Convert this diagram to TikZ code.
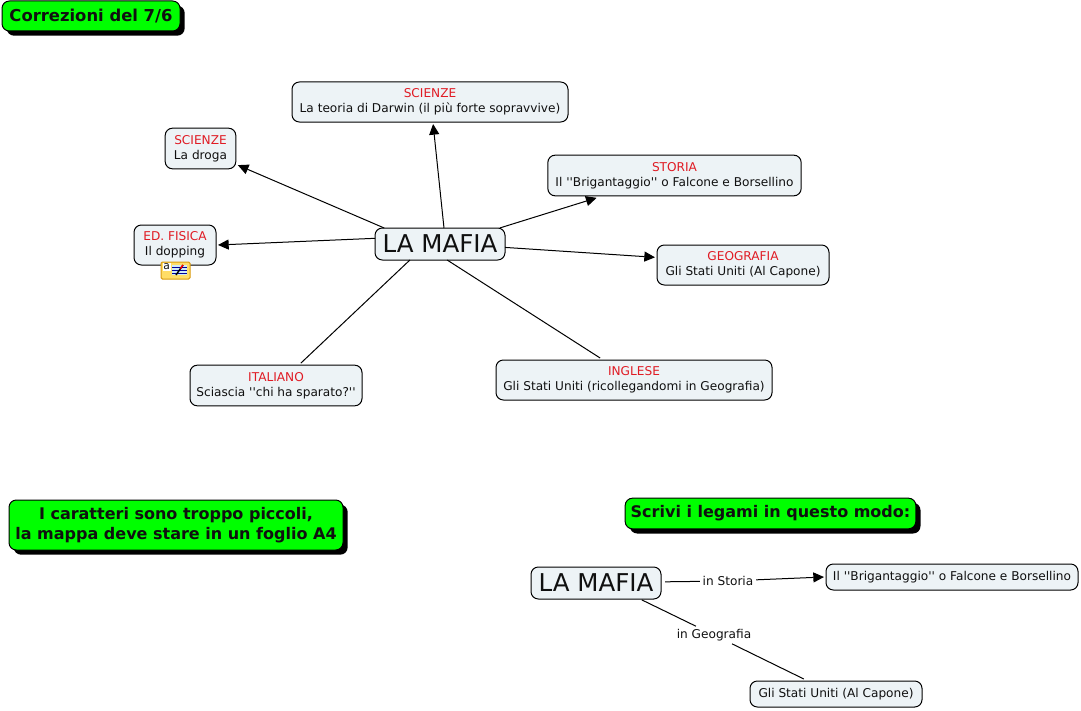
\documentclass[tikz,border=0pt]{standalone}
\usepackage{fontspec}
\setmainfont{DejaVu Sans}
\usetikzlibrary{arrows.meta,shadows}
\definecolor{Ink}{HTML}{101010}
\definecolor{Subject}{HTML}{E01B24}
\definecolor{Pale}{HTML}{EDF3F6}
\definecolor{Alert}{HTML}{00FF00}
\definecolor{Pad}{HTML}{FFDD66}
\definecolor{PadEdge}{HTML}{D99A10}
\definecolor{PadSheet}{HTML}{CFEAF8}
\tikzset{>={Triangle[length=8pt,width=7.5pt]},
 every node/.style={text=Ink},
 arr/.style={->,line width=.75pt},
 link/.style={line width=.75pt},
 concept/.style={draw=black,line width=.75pt,fill=Pale,rounded corners=5.5pt,align=center,font=\fontsize{9.1}{11.2}\selectfont,inner sep=0pt,outer sep=1.5pt},
 bigconcept/.style={concept,font=\fontsize{18.4}{21}\selectfont,minimum width=97.5pt,minimum height=24pt,outer sep=0pt},
 alert/.style={draw=black,line width=.75pt,fill=Alert,rounded corners=5.5pt,align=center,inner sep=0pt,
  font=\fontsize{12}{14.6}\selectfont\bfseries,general shadow={fill=black,shadow xshift=3.5pt,shadow yshift=-3.5pt}},
 linklabel/.style={font=\fontsize{9.1}{11}\selectfont,inner sep=2pt},
 }
\newcommand{\subj}[1]{\textcolor{Subject}{#1}\\}
\newcommand{\qq}{\textquotesingle\textquotesingle}
\begin{document}
\begin{tikzpicture}[x=.75pt,y=-.75pt]
 \useasboundingbox (0,0) rectangle (1081,710);
 % top note and main map
 \node[alert,font=\fontsize{12.3}{15}\selectfont\bfseries,minimum width=133.5pt,minimum height=22.5pt] (correzioni) at (91,16) {Correzioni del 7/6};
 \node[bigconcept] (mafia) at (440,244) {LA MAFIA};
 \node[concept,minimum width=207pt,minimum height=30pt] (darwin) at (430,102) {\subj{SCIENZE}La teoria di Darwin (il più forte sopravvive)};
 \node[concept,minimum width=53pt,minimum height=30.5pt] (droga) at (200.5,148.5) {\subj{SCIENZE}La droga};
 \node[concept,minimum width=61.5pt,minimum height=30pt] (dopping) at (175,245) {\subj{ED. FISICA}Il dopping};
 \node[concept,minimum width=190pt,minimum height=30.5pt] (storia) at (674.5,175.5) {\subj{STORIA}Il \qq Brigantaggio\qq{} o Falcone e Borsellino};
 \node[concept,minimum width=129pt,minimum height=30pt] (geografia) at (743,265) {\subj{GEOGRAFIA}Gli Stati Uniti (Al Capone)};
 \node[concept,minimum width=207pt,minimum height=30pt] (inglese) at (634,380) {\subj{INGLESE}Gli Stati Uniti (ricollegandomi in Geografia)};
 \node[concept,minimum width=129pt,minimum height=30.5pt] (italiano) at (276,385.5) {\subj{ITALIANO}Sciascia \qq chi ha sparato?\qq};

 \draw[arr] (mafia.76) -- (darwin.-82);
 \draw[arr] (mafia.164) -- (droga.-24);
 \draw[arr] (mafia.175) -- (dopping.east);
 \draw[arr] (mafia.15) -- (storia.-164.5);
 \draw[arr] (mafia.-3) -- (geografia.175);
 \draw[link] (mafia.-66) -- (inglese.147);
 \draw[link] (mafia.-152) -- (italiano.42);

 % note icon
 \fill[Pad,draw=PadEdge,line width=.75pt,rounded corners=1pt] (161,262) rectangle (190,279);
 \fill[white] (163,263) rectangle (170.5,271);
 \node[font=\fontsize{8}{8}\selectfont,inner sep=0pt] (iconletter) at (166.7,266.5) {a};
 \fill[PadSheet] (172,265) rectangle (187,275);
 \foreach \y in {267.5,270.5,273.5}{\draw[blue!60!black,line width=.35pt] (172,\y) -- (187,\y);}
 \draw[black,line width=1.1pt] (176,275) -- (183,265);
 \draw[red,line width=1.1pt] (180.5,268.5) -- (183,265);

 % bottom notes
 \node[alert,minimum width=250.5pt,minimum height=37.5pt] (caratteri) at (176,525) {I caratteri sono troppo piccoli,\\la mappa deve stare in un foglio A4};
 \node[alert,minimum width=218pt,minimum height=23pt] (scrivi) at (770.5,513.5) {Scrivi i legami in questo modo:};

 % example of links
 \node[bigconcept] (mafiadue) at (596,583) {LA MAFIA};
 \node[concept,minimum width=189pt,minimum height=19.5pt] (brigantaggio) at (952,577) {Il \qq Brigantaggio\qq{} o Falcone e Borsellino};
 \node[concept,minimum width=129pt,minimum height=19.5pt] (stati) at (836,694) {Gli Stati Uniti (Al Capone)};
 \node[linklabel] (instoria) at (728,581) {in Storia};
 \node[linklabel] (ingeografia) at (714,635) {in Geografia};
 \draw[link,shorten <=3pt] (mafiadue.1) -- (instoria);
 \draw[arr] (instoria) -- (brigantaggio.180);
 \draw[link,shorten <=1.5pt] (mafiadue.-20) -- (ingeografia);
 \draw[link] (ingeografia) -- (stati.155);
\end{tikzpicture}
\end{document}
